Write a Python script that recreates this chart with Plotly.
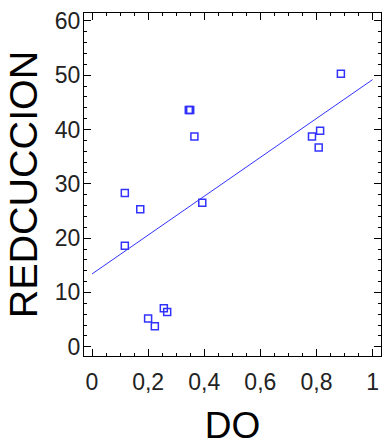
import plotly.graph_objects as go

do_vals = [0.117, 0.172, 0.117, 0.200, 0.224, 0.256, 0.268, 0.345, 0.350, 0.365, 0.393, 0.784, 0.813, 0.808, 0.887]
red_vals = [28.3, 25.3, 18.6, 5.2, 3.75, 7.1, 6.4, 43.6, 43.6, 38.7, 26.5, 38.7, 39.8, 36.7, 50.3]
fit_x = [0.0, 1.0]
fit_y = [13.4, 49.2]
x_ticks = [0, 0.2, 0.4, 0.6, 0.8, 1]
x_ticklabels = ["0", "0,2", "0,4", "0,6", "0,8", "1"]
y_ticks = [0, 10, 20, 30, 40, 50, 60]

blue = "rgb(50,50,255)"
font_fam = "Liberation Sans, Arial"
fig = go.Figure()
fig.add_trace(go.Scatter(x=fit_x, y=fit_y, mode="lines",
                         line=dict(color=blue, width=1), showlegend=False))
fig.add_trace(go.Scatter(x=do_vals, y=red_vals, mode="markers",
                         marker=dict(symbol="square-open", size=7, color=blue,
                                     line=dict(width=1.5, color=blue)),
                         showlegend=False))

axis_common = dict(showline=True, linecolor="black", linewidth=1, mirror="allticks",
                   ticks="inside", ticklen=7, tickwidth=1, tickcolor="black", showgrid=False,
                   zeroline=False, automargin=False,
                   tickfont=dict(family=font_fam, size=23, color="#222"))
fig.update_xaxes(range=[-0.0285, 1.030], tickvals=x_ticks, ticktext=x_ticklabels,
                 ticklabelstandoff=5,
                 minor=dict(dtick=0.05, tick0=0, ticks="inside", ticklen=3, tickwidth=1, tickcolor="black"),
                 title=dict(text="DO", font=dict(family=font_fam, size=37, color="black"),
                            standoff=25),
                 **axis_common)
fig.update_yaxes(range=[-1.71, 61.47], tickvals=y_ticks,
                 ticklabelstandoff=-2,
                 minor=dict(dtick=2, tick0=0, ticks="inside", ticklen=3, tickwidth=1, tickcolor="black"),
                 title=dict(text="REDCUCCION", font=dict(family=font_fam, size=39.5, color="black"),
                            standoff=4),
                 **axis_common)
fig.update_layout(width=383, height=446,
                  margin=dict(l=84, r=2, t=13, b=90, autoexpand=False),
                  plot_bgcolor="white", paper_bgcolor="white")
fig.write_html("out.html", config={"displayModeBar": False},
               post_script="document.body.style.margin='0';")
